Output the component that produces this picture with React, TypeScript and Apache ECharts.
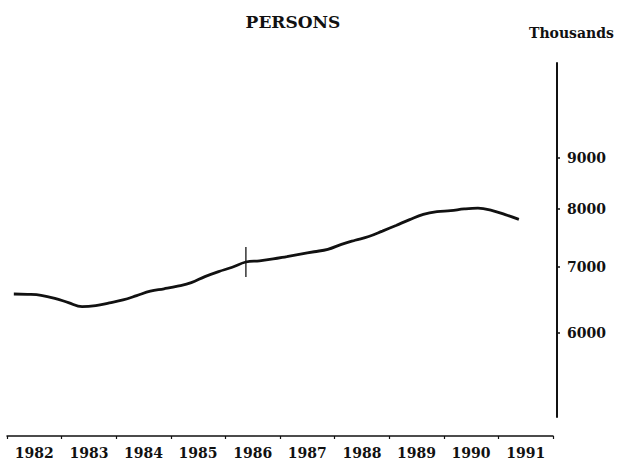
import React, { useEffect, useRef } from "react";
import * as echarts from "echarts";

const years = ["1982", "1983", "1984", "1985", "1986", "1987", "1988", "1989", "1990", "1991"];
const quarterTimes = [
  1982.125, 1982.375, 1982.625, 1982.875,
  1983.125, 1983.375, 1983.625, 1983.875,
  1984.125, 1984.375, 1984.625, 1984.875,
  1985.125, 1985.375, 1985.625, 1985.875,
  1986.125, 1986.375, 1986.625, 1986.875,
  1987.125, 1987.375, 1987.625, 1987.875,
  1988.125, 1988.375, 1988.625, 1988.875,
  1989.125, 1989.375, 1989.625, 1989.875,
  1990.125, 1990.375, 1990.625, 1990.875,
  1991.125, 1991.375,
];
const persons = [
  6570, 6565, 6550, 6505,
  6440, 6380, 6395, 6435,
  6480, 6545, 6615, 6650,
  6690, 6745, 6840, 6920,
  6990, 7075, 7095, 7125,
  7165, 7206, 7245, 7285,
  7370, 7440, 7505, 7600,
  7700, 7805, 7900, 7950,
  7968, 8000, 8015, 7975,
  7895, 7810,
];
const markerTime = 1986.375;
const markerValue = 7075;
const yTicks = [6000, 7000, 8000, 9000];
const yMin = 4942;
const yMax = 11215;

const lg = (v: number) => Math.log10(v);

export default function App() {
  const ref = useRef<HTMLDivElement>(null);
  useEffect(() => {
    if (!ref.current) return;
    const chart = echarts.init(ref.current, null, { renderer: "svg" });
    const numFont = "DejaVu Serif";
    chart.setOption({
      animation: false,
      backgroundColor: "#ffffff",
      title: {
        text: "PERSONS",
        left: 288,
        top: 8,
        textAlign: "center",
        textStyle: { fontFamily: numFont, fontWeight: "bold", fontSize: 17, color: "#111" },
      },
      graphic: [
        {
          type: "text",
          left: 529,
          top: 26,
          style: { text: "Thousands", fontFamily: numFont, fontWeight: "bold", fontSize: 14, fill: "#111" },
        },
      ],
      grid: { left: 7, right: 66, top: 63, bottom: 46 },
      xAxis: [
        {
          type: "value",
          min: 1982,
          max: 1992,
          show: false,
        },
        {
          type: "category",
          data: years,
          position: "bottom",
          offset: 19,
          boundaryGap: true,
          axisLine: { show: true, lineStyle: { color: "#111", width: 1.5 } },
          axisTick: { show: true, length: 3, lineStyle: { color: "#111", width: 1.2 } },
          axisLabel: {
            margin: 10,
            fontFamily: numFont,
            fontWeight: "bold",
            fontSize: 14,
            color: "#111",
            interval: 0,
          },
          splitLine: { show: false },
        },
      ],
      yAxis: {
        type: "value",
        position: "right",
        offset: 4,
        min: lg(yMin),
        max: lg(yMax),
        splitLine: { show: false },
        axisLine: { show: true, lineStyle: { color: "#111", width: 2 } },
        axisTick: {
          show: true,
          length: 3,
          lineStyle: { color: "#111", width: 1.5 },
          customValues: yTicks.map(lg),
        },
        axisLabel: {
          margin: 10,
          fontFamily: numFont,
          fontWeight: "bold",
          fontSize: 14,
          color: "#111",
          customValues: yTicks.map(lg),
          formatter: (v: number) => String(Math.round(Math.pow(10, v) / 100) * 100),
        },
      },
      series: [
        {
          type: "line",
          xAxisIndex: 0,
          data: quarterTimes.map((t, i) => [t, lg(persons[i])]),
          smooth: 0.4,
          showSymbol: false,
          lineStyle: { color: "#111", width: 2.8 },
        },
        {
          type: "scatter",
          xAxisIndex: 0,
          data: [[markerTime, lg(markerValue)]],
          symbol: "rect",
          symbolSize: [1.6, 30],
          itemStyle: { color: "#111" },
        },
      ],
    });
    return () => chart.dispose();
  }, []);
  return (
    <div
      ref={ref}
      style={{ position: "fixed", left: 0, top: 0, width: 619, height: 463 }}
    />
  );
}
